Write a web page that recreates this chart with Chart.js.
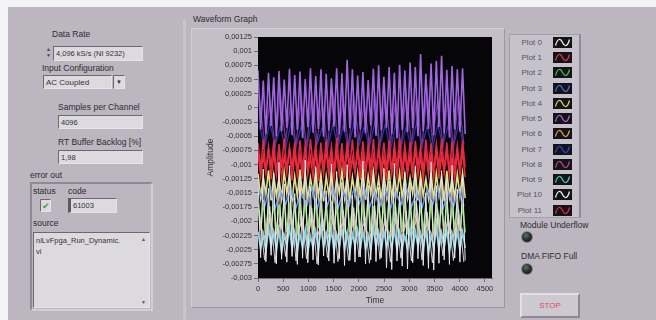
<!DOCTYPE html>
<html>
<head>
<meta charset="utf-8">
<script src="https://cdn.jsdelivr.net/npm/chart.js@4.4.1/dist/chart.umd.min.js"></script>
<style>
  html,body{margin:0;padding:0;width:656px;height:320px;overflow:hidden;background:#f4f3f5;}
  body{position:relative;font-family:"Liberation Sans",Arial,sans-serif;color:#2e2b33;}
  #panel{position:absolute;left:8px;top:7px;right:0;bottom:0;background:#bcb6c0;}
  .abs{position:absolute;white-space:nowrap;}
  .lbl{font-size:8.5px;line-height:10px;color:#2e2b33;}
  .box{background:#dcd9df;border-top:1px solid #6d6872;border-left:1px solid #6d6872;border-bottom:1px solid #e6e3e9;border-right:1px solid #e6e3e9;font-size:7.5px;line-height:13px;padding-left:2px;box-sizing:border-box;color:#333;}
  #sep{left:183px;top:20px;width:3px;height:300px;background:#c9c4cd;}
  #gframe{left:191px;top:28px;width:314px;height:280px;background:#c3bec8;border:1px solid #d4d0d8;border-right-color:#9c97a2;border-bottom-color:#9c97a2;box-sizing:border-box;}
  #legend{left:509px;top:34px;width:72px;height:184px;background:#c6c2cb;border:1px solid #a39ea8;border-right:2px solid #8f8a96;box-sizing:border-box;}
  .litem{position:absolute;left:0;width:70px;height:11px;}
  .litem span{position:absolute;right:38px;top:0;font-size:8px;line-height:11px;color:#57535c;}
  .litem svg{position:absolute;left:43px;top:0;}
  .led{width:12px;height:12px;border-radius:50%;background:radial-gradient(circle at 40% 35%,#5d7463 0%,#25342b 45%,#111813 100%);border:1px solid #8b8590;box-sizing:border-box;}
  #stop{left:520px;top:293px;width:60px;height:25px;background:#cdc9d1;border:2px solid #e2dfe5;border-right-color:#8e8994;border-bottom-color:#8e8994;box-sizing:border-box;text-align:center;font-size:8px;line-height:21px;color:#e0465a;}
  #cluster{left:30px;top:182px;width:123px;height:129px;border:2px solid #8e8994;border-right-color:#d3cfd7;border-bottom-color:#d3cfd7;box-sizing:border-box;}
  canvas{position:absolute;left:0;top:0;z-index:5;}
</style>
</head>
<body>
<div id="panel"></div>
<div class="abs" id="sep"></div>

<!-- left controls -->
<div class="abs lbl" style="left:52px;top:29px;">Data Rate</div>
<div class="abs" style="left:45px;top:46px;width:7px;height:14px;font-size:5px;line-height:6px;color:#444;text-align:center;">▲<br>▼</div>
<div class="abs box" style="left:53px;top:46px;width:90px;height:15px;">4,096 kS/s (NI 9232)</div>
<div class="abs lbl" style="left:42px;top:63px;">Input Configuration</div>
<div class="abs box" style="left:43px;top:75px;width:69px;height:14px;font-size:8px;">AC Coupled</div>
<div class="abs box" style="left:113px;top:75px;width:12px;height:14px;font-size:6px;text-align:center;padding:0;">▼</div>
<div class="abs lbl" style="left:58px;top:102px;">Samples per Channel</div>
<div class="abs box" style="left:58px;top:115px;width:85px;height:14px;">4096</div>
<div class="abs lbl" style="left:58px;top:137px;">RT Buffer Backlog [%]</div>
<div class="abs box" style="left:58px;top:150px;width:85px;height:14px;">1,98</div>

<div class="abs lbl" style="left:30px;top:170px;">error out</div>
<div class="abs" id="cluster"></div>
<div class="abs lbl" style="left:33px;top:186px;">status</div>
<div class="abs lbl" style="left:68px;top:186px;">code</div>
<div class="abs box" style="left:40px;top:199px;width:11px;height:13px;padding:0;text-align:center;color:#3da53a;font-size:9px;line-height:12px;">✔</div>
<div class="abs box" style="left:68px;top:198px;width:49px;height:15px;border-left:3px solid #5c5861;">61003</div>
<div class="abs lbl" style="left:33px;top:218px;">source</div>
<div class="abs box" style="left:33px;top:232px;width:117px;height:76px;line-height:11px;padding-top:2px;">niLvFpga_Run_Dynamic.<br>vi</div>
<div class="abs" style="left:141px;top:236px;font-size:5px;color:#555;">▲</div>
<div class="abs" style="left:141px;top:299px;font-size:5px;color:#555;">▼</div>

<!-- graph frame -->
<div class="abs lbl" style="left:193px;top:14px;">Waveform Graph</div>
<div class="abs" id="gframe"></div>

<!-- legend -->
<div class="abs" id="legend"></div>

<div class="abs lbl" style="left:520px;top:220px;">Module Underflow</div>
<div class="abs led" style="left:521px;top:231px;"></div>
<div class="abs lbl" style="left:521px;top:251px;">DMA FIFO Full</div>
<div class="abs led" style="left:521px;top:263px;"></div>
<div class="abs" id="stop">STOP</div>

<canvas id="c" width="656" height="320"></canvas>

<script>
// ---- data ----
const plotNames = ["Plot 0","Plot 1","Plot 2","Plot 3","Plot 4","Plot 5","Plot 6","Plot 7","Plot 8","Plot 9","Plot 10","Plot 11"];

const time = [0,52,104,156,208,260,312,364,416,468,520,572,624,676,728,780,832,884,936,988,1040,1092,1144,1196,1248,1300,1352,1404,1456,1508,1560,1612,1664,1716,1768,1820,1872,1924,1976,2028,2080,2132,2184,2236,2288,2340,2392,2444,2496,2548,2600,2652,2704,2756,2808,2860,2912,2964,3016,3068,3120,3172,3224,3276,3328,3380,3432,3484,3536,3588,3640,3692,3744,3796,3848,3900,3952,4004,4056,4108];
const timeHalf = [26,130,234,338,442,546,650,754,858,962,1066,1170,1274,1378,1482,1586,1690,1794,1898,2002,2106,2210,2314,2418,2522,2626,2730,2834,2938,3042,3146,3250,3354,3458,3562,3666,3770,3874,3978,4082];

const xTicks = [0,500,1000,1500,2000,2500,3000,3500,4000,4500];
const yTicks = [0.00125,0.001,0.00075,0.0005,0.00025,0,-0.00025,-0.0005,-0.00075,-0.001,-0.00125,-0.0015,-0.00175,-0.002,-0.00225,-0.0025,-0.00275,-0.003];

const plot0 = [-12.5e-4,-26.4e-4,-10.8e-4,-27.1e-4,-14.2e-4,-26.0e-4,-11.5e-4,-27.5e-4,-9.6e-4,-26.7e-4,-13.4e-4,-27.2e-4,-10.2e-4,-26.2e-4,-15.1e-4,-27.6e-4,-11.9e-4,-26.5e-4,-9.2e-4,-27.3e-4,-13.8e-4,-26.8e-4,-10.5e-4,-27.7e-4,-12.7e-4,-26.1e-4,-14.6e-4,-27.0e-4,-9.9e-4,-27.4e-4,-11.2e-4,-26.6e-4,-13.1e-4,-27.8e-4,-10.0e-4,-26.9e-4,-15.4e-4,-27.2e-4,-12.0e-4,-26.3e-4,-9.4e-4,-27.5e-4,-13.6e-4,-26.8e-4,-11.0e-4,-27.1e-4,-14.0e-4,-26.4e-4,-10.7e-4,-28.2e-4,-12.9e-4,-28.5e-4,-9.8e-4,-27.0e-4,-14.8e-4,-27.9e-4,-11.4e-4,-28.4e-4,-13.2e-4,-27.3e-4,-10.3e-4,-26.6e-4,-12.4e-4,-27.8e-4,-15.0e-4,-28.3e-4,-9.5e-4,-28.6e-4,-13.7e-4,-27.4e-4,-11.1e-4,-26.8e-4,-12.6e-4,-27.6e-4,-10.1e-4,-26.5e-4,-14.3e-4,-27.2e-4,-11.7e-4,-26.9e-4];

const plot1 = [-7.8e-4,-12.2e-4,-8.4e-4,-11.7e-4,-7.2e-4,-12.6e-4,-8.0e-4,-11.9e-4,-7.5e-4,-12.4e-4,-8.6e-4,-11.6e-4,-7.1e-4,-12.8e-4,-7.9e-4,-12.0e-4,-8.3e-4,-12.5e-4,-7.4e-4,-11.8e-4,-8.7e-4,-12.3e-4,-7.6e-4,-12.9e-4,-8.1e-4,-11.7e-4,-7.3e-4,-12.1e-4,-8.5e-4,-12.6e-4,-7.7e-4,-11.9e-4,-8.2e-4,-12.4e-4,-7.0e-4,-12.2e-4,-8.8e-4,-11.6e-4,-7.5e-4,-12.7e-4,-8.0e-4,-12.0e-4,-7.8e-4,-12.5e-4,-8.4e-4,-11.8e-4,-7.2e-4,-12.3e-4,-8.6e-4,-12.8e-4,-7.6e-4,-11.7e-4,-8.1e-4,-12.2e-4,-7.3e-4,-12.6e-4,-7.9e-4,-11.9e-4,-8.3e-4,-12.4e-4,-7.1e-4,-12.0e-4,-8.5e-4,-12.7e-4,-7.7e-4,-11.8e-4,-8.0e-4,-12.3e-4,-7.4e-4,-12.5e-4,-8.2e-4,-11.6e-4,-7.6e-4,-12.1e-4,-8.7e-4,-12.6e-4,-7.8e-4,-11.9e-4,-7.5e-4,-12.2e-4];

const plot2 = [-16.8e-4,-21.6e-4,-16.2e-4,-22.1e-4,-17.3e-4,-21.0e-4,-16.5e-4,-22.4e-4,-17.0e-4,-21.3e-4,-16.1e-4,-21.9e-4,-17.5e-4,-21.5e-4,-16.6e-4,-22.2e-4,-16.9e-4,-20.9e-4,-16.3e-4,-21.8e-4,-17.2e-4,-22.3e-4,-16.0e-4,-21.2e-4,-16.7e-4,-21.7e-4,-17.4e-4,-22.0e-4,-16.4e-4,-21.4e-4,-17.1e-4,-22.5e-4,-16.8e-4,-21.1e-4,-16.2e-4,-21.9e-4,-17.6e-4,-21.6e-4,-16.5e-4,-22.2e-4,-16.9e-4,-20.8e-4,-16.1e-4,-21.8e-4,-17.3e-4,-22.4e-4,-16.6e-4,-21.3e-4,-17.0e-4,-21.7e-4,-16.3e-4,-22.1e-4,-17.5e-4,-21.0e-4,-16.7e-4,-21.9e-4,-16.0e-4,-22.3e-4,-17.2e-4,-21.5e-4,-16.4e-4,-21.2e-4,-16.9e-4,-22.0e-4,-17.4e-4,-21.6e-4,-16.2e-4,-22.4e-4,-16.8e-4,-21.1e-4,-17.1e-4,-21.8e-4,-16.5e-4,-22.2e-4,-17.6e-4,-21.4e-4,-16.6e-4,-21.7e-4,-16.9e-4,-22.0e-4];

const plot3 = [-14.5e-4,-17.4e-4,-14.1e-4,-17.8e-4,-14.8e-4,-17.1e-4,-14.3e-4,-17.6e-4,-14.9e-4,-17.3e-4,-14.0e-4,-17.9e-4,-14.6e-4,-17.2e-4,-14.2e-4,-17.7e-4,-14.7e-4,-17.5e-4,-14.4e-4,-17.0e-4,-14.1e-4,-17.6e-4,-14.8e-4,-17.3e-4,-14.3e-4,-17.8e-4,-14.6e-4,-17.1e-4,-14.0e-4,-17.5e-4,-14.9e-4,-17.7e-4,-14.4e-4,-17.2e-4,-14.2e-4,-17.9e-4,-14.7e-4,-17.4e-4,-14.5e-4,-17.3e-4];

const plot4 = [-11.6e-4,-15.8e-4,-12.2e-4,-15.2e-4,-11.0e-4,-16.3e-4,-11.9e-4,-15.5e-4,-12.4e-4,-16.0e-4,-11.3e-4,-15.1e-4,-11.8e-4,-16.4e-4,-12.1e-4,-15.6e-4,-10.9e-4,-15.9e-4,-11.5e-4,-16.2e-4,-12.3e-4,-15.3e-4,-11.2e-4,-15.7e-4,-11.7e-4,-16.5e-4,-12.0e-4,-15.4e-4,-11.4e-4,-16.1e-4,-12.5e-4,-15.0e-4,-11.1e-4,-15.8e-4,-11.9e-4,-16.3e-4,-12.2e-4,-15.5e-4,-11.6e-4,-15.9e-4,-10.8e-4,-16.2e-4,-12.0e-4,-15.2e-4,-11.3e-4,-15.7e-4,-12.4e-4,-16.4e-4,-11.7e-4,-15.6e-4,-11.0e-4,-16.0e-4,-12.1e-4,-15.3e-4,-11.5e-4,-16.1e-4,-11.8e-4,-15.8e-4,-12.3e-4,-15.1e-4,-11.2e-4,-16.3e-4,-11.9e-4,-15.5e-4,-12.5e-4,-15.9e-4,-11.4e-4,-16.2e-4,-11.6e-4,-15.4e-4,-12.0e-4,-16.5e-4,-11.1e-4,-15.7e-4,-12.2e-4,-16.0e-4,-11.7e-4,-15.6e-4,-11.5e-4,-15.9e-4];

const plot5 = [6.6e-4,-3.8e-4,4.8e-4,-4.6e-4,6.2e-4,-3.2e-4,5.4e-4,-5.0e-4,6.5e-4,-4.1e-4,5.0e-4,-3.5e-4,6.9e-4,-4.8e-4,5.8e-4,-3.9e-4,6.4e-4,-5.3e-4,5.1e-4,-3.4e-4,7.0e-4,-4.4e-4,5.6e-4,-3.7e-4,6.8e-4,-5.1e-4,6.0e-4,-4.0e-4,5.2e-4,-3.3e-4,7.0e-4,-4.7e-4,6.1e-4,-4.2e-4,8.5e-4,-3.6e-4,6.8e-4,-5.2e-4,5.7e-4,-3.8e-4,6.3e-4,-4.5e-4,4.9e-4,-3.1e-4,6.9e-4,-4.9e-4,7.5e-4,-4.0e-4,5.5e-4,-3.5e-4,7.2e-4,-4.6e-4,6.2e-4,-5.4e-4,7.6e-4,-3.9e-4,6.6e-4,-4.3e-4,8.0e-4,-3.6e-4,7.2e-4,-5.0e-4,9.5e-4,-4.1e-4,6.0e-4,-3.7e-4,7.8e-4,-4.8e-4,8.3e-4,-3.4e-4,9.2e-4,-4.5e-4,6.7e-4,-5.2e-4,7.4e-4,-3.8e-4,6.8e-4,-4.2e-4,7.0e-4,-4.6e-4];

const plot6 = [-20.0e-4,-23.0e-4,-19.6e-4,-22.6e-4,-20.4e-4,-23.3e-4,-19.8e-4,-22.8e-4,-20.2e-4,-23.5e-4,-19.5e-4,-22.7e-4,-20.5e-4,-23.1e-4,-19.9e-4,-22.9e-4,-20.1e-4,-23.4e-4,-19.7e-4,-22.5e-4,-20.3e-4,-23.2e-4,-19.6e-4,-22.8e-4,-20.0e-4,-23.0e-4,-19.8e-4,-23.3e-4,-20.4e-4,-22.6e-4,-19.5e-4,-23.1e-4,-20.2e-4,-22.9e-4,-19.9e-4,-23.4e-4,-20.1e-4,-22.7e-4,-19.7e-4,-23.0e-4];

const plot7 = [-3.0e-4,-7.0e-4,-2.6e-4,-6.6e-4,-3.4e-4,-7.3e-4,-2.8e-4,-6.8e-4,-3.2e-4,-7.1e-4,-2.5e-4,-6.5e-4,-3.5e-4,-7.4e-4,-2.9e-4,-6.9e-4,-3.1e-4,-7.2e-4,-2.7e-4,-6.7e-4,-3.3e-4,-7.0e-4,-2.6e-4,-6.6e-4,-3.0e-4,-7.5e-4,-2.8e-4,-6.8e-4,-3.4e-4,-7.1e-4,-2.5e-4,-6.9e-4,-3.2e-4,-7.3e-4,-2.9e-4,-6.7e-4,-3.1e-4,-7.0e-4,-2.7e-4,-6.8e-4];

const plot8 = [2.0e-4,-6.4e-4,1.2e-4,-6.9e-4,2.6e-4,-5.8e-4,0.8e-4,-6.6e-4,1.9e-4,-7.1e-4,2.3e-4,-6.0e-4,1.0e-4,-6.8e-4,2.8e-4,-6.2e-4,1.5e-4,-7.0e-4,2.1e-4,-5.9e-4,0.9e-4,-6.5e-4,2.5e-4,-6.9e-4,1.7e-4,-6.1e-4,1.1e-4,-7.2e-4,2.4e-4,-6.3e-4,1.6e-4,-6.7e-4,2.9e-4,-5.7e-4,1.3e-4,-6.6e-4,2.2e-4,-7.0e-4,1.8e-4,-6.4e-4];

const plot9 = [-21.8e-4,-24.9e-4,-22.3e-4,-25.4e-4,-21.2e-4,-24.6e-4,-22.0e-4,-25.1e-4,-21.5e-4,-25.6e-4,-22.5e-4,-24.4e-4,-21.1e-4,-25.0e-4,-21.9e-4,-25.3e-4,-22.2e-4,-24.7e-4,-21.4e-4,-25.5e-4,-22.6e-4,-24.8e-4,-21.7e-4,-25.2e-4,-21.0e-4,-24.5e-4,-22.1e-4,-25.0e-4,-21.6e-4,-25.4e-4,-22.4e-4,-24.6e-4,-21.3e-4,-24.9e-4,-21.9e-4,-25.6e-4,-22.2e-4,-24.3e-4,-21.5e-4,-25.1e-4,-21.8e-4,-24.8e-4,-22.5e-4,-25.3e-4,-21.1e-4,-24.7e-4,-22.0e-4,-25.5e-4,-21.7e-4,-24.4e-4,-22.3e-4,-25.0e-4,-21.4e-4,-25.2e-4,-21.9e-4,-24.6e-4,-22.6e-4,-24.9e-4,-21.2e-4,-25.4e-4,-21.8e-4,-24.5e-4,-22.1e-4,-25.1e-4,-21.6e-4,-25.6e-4,-22.4e-4,-24.8e-4,-21.3e-4,-25.0e-4,-22.0e-4,-24.6e-4,-21.5e-4,-25.3e-4,-22.2e-4,-24.9e-4,-21.7e-4,-25.2e-4,-21.9e-4,-24.7e-4];

const plot10 = [-18.0e-4,-26.8e-4,-17.4e-4,-27.3e-4,-18.6e-4,-26.2e-4,-17.1e-4,-27.0e-4,-18.3e-4,-26.6e-4,-17.7e-4,-27.5e-4,-18.9e-4,-26.4e-4,-17.3e-4,-27.1e-4,-18.1e-4,-26.9e-4,-17.6e-4,-26.3e-4,-18.5e-4,-27.4e-4,-17.2e-4,-26.7e-4,-18.8e-4,-27.2e-4,-17.5e-4,-26.5e-4,-18.2e-4,-27.0e-4,-17.0e-4,-26.8e-4,-18.4e-4,-27.3e-4,-17.8e-4,-26.1e-4,-18.7e-4,-26.9e-4,-17.9e-4,-27.2e-4];

const plot11 = [-6.2e-4,-10.8e-4,-5.6e-4,-11.2e-4,-6.8e-4,-10.3e-4,-5.9e-4,-11.5e-4,-6.4e-4,-10.6e-4,-5.4e-4,-11.0e-4,-6.9e-4,-10.4e-4,-6.0e-4,-11.3e-4,-5.7e-4,-10.7e-4,-6.5e-4,-11.1e-4,-5.5e-4,-10.2e-4,-6.3e-4,-11.4e-4,-6.1e-4,-10.9e-4,-5.8e-4,-10.5e-4,-6.7e-4,-11.2e-4,-5.3e-4,-10.8e-4,-6.2e-4,-11.0e-4,-6.0e-4,-10.3e-4,-5.6e-4,-11.5e-4,-6.6e-4,-10.6e-4,-5.9e-4,-11.1e-4,-6.4e-4,-10.4e-4,-5.5e-4,-11.3e-4,-6.8e-4,-10.7e-4,-6.1e-4,-10.9e-4,-5.7e-4,-11.2e-4,-6.3e-4,-10.5e-4,-5.4e-4,-11.0e-4,-6.5e-4,-10.8e-4,-6.0e-4,-11.4e-4,-5.8e-4,-10.2e-4,-6.9e-4,-11.1e-4,-5.6e-4,-10.6e-4,-6.2e-4,-11.3e-4,-6.4e-4,-10.4e-4,-5.5e-4,-10.9e-4,-6.1e-4,-11.2e-4,-5.9e-4,-10.7e-4,-6.6e-4,-11.0e-4,-5.7e-4,-10.5e-4];

// ---- styles ----
const plotValues = [plot0,plot1,plot2,plot3,plot4,plot5,plot6,plot7,plot8,plot9,plot10,plot11];
const plotTimes  = [time,time,time,timeHalf,time,time,timeHalf,timeHalf,timeHalf,time,timeHalf,time];
const lineColors = ["#e6e6ea","#ef2f2a","#74cf4a","#6696ea","#e2df8c","#a066e2","#eaa858","#3030a8","#6e3290","#78d8ea","#cfcfd6","#e4284a"];
const iconColors = ["#f0f0f0","#e8344a","#3fc24a","#3f6fe0","#d8d860","#a860e0","#e0a040","#3040e0","#c040a0","#40c8c0","#f0f0f0","#e02850"];
const drawOrder  = [1,9,6,3,7,10,5,12,11,4,2,8];
const lineWidths = [1,1.5,1.6,1.5,1.6,1.6,1.3,1.3,1.3,1.6,1,1.5];

// legend
const leg = document.getElementById('legend');
plotNames.forEach((n,i)=>{
  const d = document.createElement('div');
  d.className='litem';
  d.style.top = (2 + i*15.24) + 'px';
  d.innerHTML = '<span>'+n+'</span><svg width="19" height="11"><rect width="19" height="11" fill="#141316"/><path d="M2.5,8.5 C4.5,1 7.5,1 9.5,5.5 S14.5,10 16.5,2.5" stroke="'+iconColors[i]+'" fill="none" stroke-width="1.3"/></svg>';
  leg.appendChild(d);
});

function fmt(v){
  const r = Math.round(v*1e5)/1e5;
  if (r === 0) return '0';
  return String(r).replace('.', ',');
}

const datasets = plotNames.map((n,i)=>({
  label:n,
  data: plotTimes[i].map((t,j)=>({x:t, y:plotValues[i][j]})),
  borderColor: lineColors[i],
  borderWidth: lineWidths[i],
  pointRadius:0,
  tension:0,
  fill:false,
  order: drawOrder[i]
}));

const blackBg = {
  id:'blackBg',
  beforeDatasetsDraw(chart){
    const {ctx, chartArea:a} = chart;
    ctx.save(); ctx.fillStyle='#060508'; ctx.fillRect(a.left,a.top,a.right-a.left,a.bottom-a.top); ctx.restore();
  }
};

const tickFont = {family:'"Liberation Sans", Arial, sans-serif', size:7.5};

new Chart(document.getElementById('c'), {
  type:'line',
  data:{datasets},
  plugins:[blackBg],
  options:{
    responsive:false, animation:false, devicePixelRatio:1,
    layout:{padding:{left:192,right:164,top:37,bottom:10}},
    plugins:{legend:{display:false}, tooltip:{enabled:false}, title:{display:false}},
    scales:{
      x:{
        type:'linear', min:0, max:4640,
        afterBuildTicks(s){ s.ticks = xTicks.map(v=>({value:v})); },
        afterFit(s){ s.height = 32; },
        ticks:{font:tickFont, color:'#333036', padding:2, maxRotation:0, autoSkip:false, callback:(v)=>String(v)},
        grid:{display:true, drawOnChartArea:false, drawTicks:true, tickLength:4, color:'#6f6a74'},
        border:{color:'#6f6a74'},
        title:{display:true, text:'Time', color:'#333036', font:{family:'"Liberation Sans", Arial, sans-serif', size:8.5}, padding:{top:0,bottom:4}}
      },
      y:{
        type:'linear', min:-0.003, max:0.00125,
        afterBuildTicks(s){ s.ticks = yTicks.map(v=>({value:v})); },
        afterFit(s){ s.width = 66; },
        ticks:{font:tickFont, color:'#333036', padding:2, autoSkip:false, callback:(v)=>fmt(v)},
        grid:{display:true, drawOnChartArea:false, drawTicks:true, tickLength:4, color:'#6f6a74'},
        border:{color:'#6f6a74'},
        title:{display:true, text:'Amplitude', color:'#333036', font:{family:'"Liberation Sans", Arial, sans-serif', size:8.5}, padding:{top:14,bottom:0}}
      }
    }
  }
});
</script>
</body>
</html>
